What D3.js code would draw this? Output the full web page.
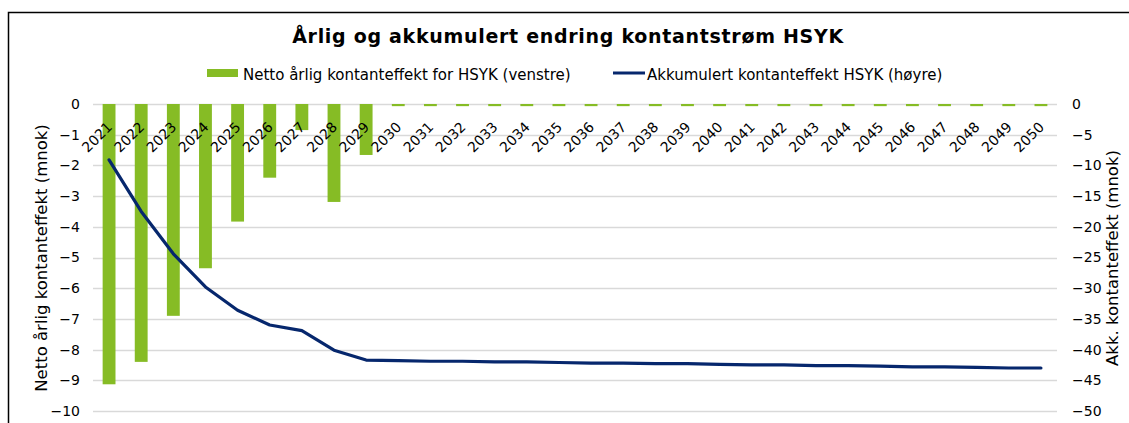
<!DOCTYPE html>
<html>
<head>
<meta charset="utf-8">
<script src="https://cdn.jsdelivr.net/npm/d3@7"></script>
<style>
  body { margin: 0; background: #fff; }
  svg text { font-family: "DejaVu Sans", Verdana, sans-serif; fill: #000; }
</style>
</head>
<body>
<div class="canva"></div>
<script>
// data
const years = ["2021","2022","2023","2024","2025","2026","2027","2028","2029","2030",
  "2031","2032","2033","2034","2035","2036","2037","2038","2039","2040",
  "2041","2042","2043","2044","2045","2046","2047","2048","2049","2050"];

// netto årlig kontanteffekt (venstre akse, mnok)
const annual = [-9.13, -8.4, -6.9, -5.35, -3.83, -2.4, -0.85, -3.19, -1.66, -0.07,
  -0.07, -0.07, -0.07, -0.07, -0.07, -0.07, -0.07, -0.07, -0.07, -0.07,
  -0.07, -0.07, -0.07, -0.07, -0.07, -0.07, -0.07, -0.07, -0.07, -0.07];

// akkumulert kontanteffekt (høyre akse, mnok)
const cumulative = [-9.1, -17.5, -24.4, -29.8, -33.6, -36.0, -36.9, -40.1, -41.7, -41.8,
  -41.9, -41.9, -42.0, -42.0, -42.1, -42.2, -42.2, -42.3, -42.3, -42.4,
  -42.5, -42.5, -42.6, -42.6, -42.7, -42.8, -42.8, -42.9, -43.0, -43.0];

const leftTicks = [0, -1, -2, -3, -4, -5, -6, -7, -8, -9, -10];
const rightTicks = [0, -5, -10, -15, -20, -25, -30, -35, -40, -45, -50];

const title = "Årlig og akkumulert endring kontantstrøm HSYK";
const legendBar = "Netto årlig kontanteffekt for HSYK (venstre)";
const legendLine = "Akkumulert kontanteffekt HSYK (høyre)";
const leftTitle = "Netto årlig kontanteffekt (mnok)";
const rightTitle = "Akk. kontanteffekt (mnok)";

const green = "#86bc25";
const navy = "#06276d";

const W = 1129, H = 423;
const plot = { left: 93, right: 1057, top: 104, bottom: 411 };

const svg = d3.select(".canva").append("svg")
  .attr("width", W)
  .attr("height", H);

// chart frame
svg.append("rect")
  .attr("x", 8.5).attr("y", 12.5)
  .attr("width", W + 20).attr("height", H + 20)
  .attr("fill", "none")
  .attr("stroke", "#000")
  .attr("stroke-width", 1.5);

const x = d3.scaleBand()
  .domain(years)
  .range([plot.left, plot.right])
  .paddingInner(0.6)
  .paddingOuter(0.3);

const yL = d3.scaleLinear().domain([-10, 0]).range([plot.bottom, plot.top]);
const yR = d3.scaleLinear().domain([-50, 0]).range([plot.bottom, plot.top]);

// gridlines
svg.append("g")
  .selectAll("line")
  .data(leftTicks)
  .enter().append("line")
  .attr("x1", plot.left).attr("x2", plot.right)
  .attr("y1", d => Math.round(yL(d)) + 0.5)
  .attr("y2", d => Math.round(yL(d)) + 0.5)
  .attr("stroke", "#d9d9d9")
  .attr("stroke-width", 1.5);

// bars
svg.append("g")
  .selectAll("rect")
  .data(annual)
  .enter().append("rect")
  .attr("x", (d, i) => x(years[i]))
  .attr("y", yL(0))
  .attr("width", x.bandwidth())
  .attr("height", d => yL(d) - yL(0))
  .attr("fill", green);

// category labels (rotated, just under zero line)
svg.append("g")
  .selectAll("text")
  .data(years)
  .enter().append("text")
  .attr("transform", d => "translate(" + (x(d) + x.bandwidth() / 2 + 4) + "," + 128 + ") rotate(-45)")
  .attr("text-anchor", "end")
  .style("font-size", "14px")
  .text(d => d);

// cumulative line
const line = d3.line()
  .x((d, i) => x(years[i]) + x.bandwidth() / 2)
  .y(d => yR(d));

svg.append("path")
  .datum(cumulative)
  .attr("d", line)
  .attr("fill", "none")
  .attr("stroke", navy)
  .attr("stroke-width", 3.2)
  .attr("stroke-linejoin", "round")
  .attr("stroke-linecap", "round");

// axes
const leftAxis = d3.axisLeft(yL).tickValues(leftTicks).tickSize(0).tickPadding(13);
const gl = svg.append("g").attr("transform", "translate(" + plot.left + ",0)").call(leftAxis);
gl.select(".domain").remove();
gl.selectAll("text").style("font-size", "14px").attr("font-family", null);

const rightAxis = d3.axisRight(yR).tickValues(rightTicks).tickSize(0).tickPadding(15);
const gr = svg.append("g").attr("transform", "translate(" + plot.right + ",0)").call(rightAxis);
gr.select(".domain").remove();
gr.selectAll("text").style("font-size", "14px").attr("font-family", null);

// axis titles
svg.append("text")
  .attr("transform", "translate(46.5,258) rotate(-90)")
  .attr("text-anchor", "middle")
  .style("font-size", "16.5px")
  .text(leftTitle);

svg.append("text")
  .attr("transform", "translate(1118,258) rotate(-90)")
  .attr("text-anchor", "middle")
  .style("font-size", "16.5px")
  .text(rightTitle);

// title
svg.append("text")
  .attr("x", 568).attr("y", 43)
  .attr("text-anchor", "middle")
  .style("font-size", "19px")
  .style("letter-spacing", "0.7px")
  .style("font-weight", "bold")
  .text(title);

// legend
const leg = svg.append("g").attr("transform", "translate(0,73)");
leg.append("rect")
  .attr("x", 207).attr("y", -4)
  .attr("width", 31).attr("height", 8)
  .attr("fill", green);
leg.append("text")
  .attr("x", 243).attr("y", 7)
  .style("font-size", "15px")
  .text(legendBar);
leg.append("line")
  .attr("x1", 613).attr("x2", 645)
  .attr("y1", 0).attr("y2", 0)
  .attr("stroke", navy)
  .attr("stroke-width", 3);
leg.append("text")
  .attr("x", 647).attr("y", 7)
  .style("font-size", "15px")
  .text(legendLine);
</script>
</body>
</html>
